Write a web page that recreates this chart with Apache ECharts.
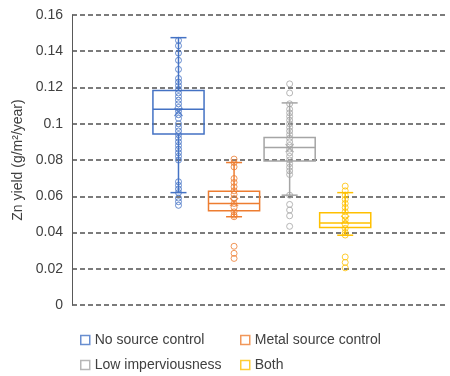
<!DOCTYPE html>
<html>
<head>
<meta charset="utf-8">
<script src="https://cdn.jsdelivr.net/npm/echarts@6/dist/echarts.min.js"></script>
<style>
  html, body { margin: 0; padding: 0; background: #fff; }
  #chart { width: 450px; height: 376px; }
</style>
</head>
<body>
<div id="chart"></div>
<script>
const groups = ['No source control', 'Metal source control', 'Low imperviousness', 'Both'];
const colors = ['#4472C4', '#ED7D31', '#A5A5A5', '#FFC000'];
const yTicks = [0, 0.02, 0.04, 0.06, 0.08, 0.1, 0.12, 0.14, 0.16];

// [lower whisker, Q1, median, Q3, upper whisker]
const boxNoSource = [0.062, 0.0943, 0.108, 0.1183, 0.1475];
const boxMetal = [0.0487, 0.052, 0.056, 0.0628, 0.0786];
const boxLowImp = [0.0606, 0.0795, 0.0869, 0.0924, 0.1115];
const boxBoth = [0.0385, 0.0428, 0.0452, 0.0509, 0.062];
const means = [0.1065, 0.0568, 0.0866, 0.047];

const ptsNoSource = [0.146, 0.143, 0.139, 0.135, 0.130, 0.125, 0.123, 0.121, 0.119, 0.117, 0.115,
  0.113, 0.111, 0.109, 0.107, 0.105, 0.103, 0.100, 0.098, 0.096, 0.094, 0.092, 0.090, 0.088,
  0.086, 0.084, 0.082, 0.080, 0.068, 0.066, 0.064, 0.062, 0.059, 0.057, 0.055];
const ptsMetal = [0.0805, 0.0786, 0.0762, 0.0698, 0.0676, 0.0652, 0.063, 0.061, 0.0588, 0.056,
  0.0538, 0.0514, 0.0496, 0.0487, 0.0324, 0.0285, 0.0257];
const ptsLowImp = [0.122, 0.117, 0.111, 0.108, 0.106, 0.104, 0.102, 0.100, 0.098, 0.096, 0.094,
  0.092, 0.090, 0.088, 0.086, 0.084, 0.082, 0.080, 0.078, 0.076, 0.074, 0.072, 0.0606,
  0.0555, 0.0524, 0.0492, 0.0434];
const ptsBoth = [0.0656, 0.063, 0.0606, 0.0583, 0.056, 0.0538, 0.0514, 0.049, 0.0469, 0.0445,
  0.0423, 0.040, 0.0386, 0.0265, 0.0235, 0.0205];

const boxes = [boxNoSource, boxMetal, boxLowImp, boxBoth];
const points = [ptsNoSource, ptsMetal, ptsLowImp, ptsBoth];

const chart = echarts.init(document.getElementById('chart'));
const font = 'Liberation Sans';

const renderBox = (params, api) => {
  const i = api.value(0);
  const x = api.coord([i, 0])[0];
  const w = api.size([1, 0])[0] * 0.92;
  const capW = 16;
  const y = [1, 2, 3, 4, 5].map(k => api.coord([i, api.value(k)])[1]);
  const style = { stroke: colors[i], lineWidth: 1.5, fill: null };
  const line = (x1, y1, x2, y2) => ({ type: 'line', shape: { x1, y1, x2, y2 }, style });
  return {
    type: 'group',
    children: [
      line(x, y[0], x, y[1]),
      line(x, y[3], x, y[4]),
      line(x - capW / 2, y[0], x + capW / 2, y[0]),
      line(x - capW / 2, y[4], x + capW / 2, y[4]),
      { type: 'rect', shape: { x: x - w / 2, y: y[3], width: w, height: y[1] - y[3] }, style },
      line(x - w / 2, y[2], x + w / 2, y[2])
    ]
  };
};

const series = [{
  type: 'custom',
  xAxisIndex: 1,
  yAxisIndex: 1,
  renderItem: renderBox,
  data: boxes.map((b, i) => [i, ...b]),
  z: 2
}];
groups.forEach((g, i) => {
  series.push({
    name: g,
    type: 'scatter',
    xAxisIndex: 1,
    yAxisIndex: 1,
    symbol: 'circle',
    symbolSize: 6,
    itemStyle: { color: 'rgba(255,255,255,0)', borderColor: colors[i], borderWidth: 1 },
    data: points[i].map(v => [i, v]),
    z: 3
  });
});
series.push({
  name: 'Mean',
  type: 'scatter',
  xAxisIndex: 1,
  yAxisIndex: 1,
  symbol: 'path://M1,0L5,4L9,0L10,1L6,5L10,9L9,10L5,6L1,10L0,9L4,5L0,1Z',
  symbolSize: 9,
  data: means.map((m, i) => ({ value: [i, m], itemStyle: { color: colors[i] } })),
  z: 4
});

const legendItem = i => ({
  name: groups[i],
  itemStyle: { color: '#fff', borderColor: colors[i], borderWidth: 1.5 }
});
const legendBase = {
  orient: 'vertical',
  top: 333,
  height: 44,
  padding: 0,
  icon: 'rect',
  itemWidth: 9,
  itemHeight: 9,
  itemGap: 11,
  selectedMode: false,
  textStyle: { fontFamily: font, fontSize: 14, color: '#404040' }
};

chart.setOption({
  animation: false,
  textStyle: { fontFamily: font },
  grid: [
    { left: 72, right: 3, top: 15, bottom: 71 },
    { left: 150.7, right: 77, top: 15, bottom: 71 }
  ],
  legend: [
    Object.assign({}, legendBase, { left: 80, data: [legendItem(0), legendItem(2)] }),
    Object.assign({}, legendBase, { left: 240, data: [legendItem(1), legendItem(3)] })
  ],
  xAxis: [
    { gridIndex: 0, type: 'category', data: [''], show: false },
    { gridIndex: 1, type: 'category', data: groups, show: false }
  ],
  yAxis: [
    {
      gridIndex: 0,
      type: 'value',
      min: yTicks[0],
      max: yTicks[yTicks.length - 1],
      interval: 0.02,
      name: 'Zn yield (g/m²/year)',
      nameLocation: 'middle',
      nameGap: 47,
      nameTextStyle: { fontFamily: font, fontSize: 14, color: '#404040' },
      axisLine: { show: true, lineStyle: { color: '#595959', width: 1 } },
      axisTick: { show: false },
      axisLabel: {
        fontFamily: font, fontSize: 14, color: '#404040', margin: 9,
        formatter: v => String(yTicks.find(t => Math.abs(t - v) < 1e-9) ?? v)
      },
      splitLine: { show: true, lineStyle: { color: '#505050', type: [5, 3], width: 1.5 } }
    },
    {
      gridIndex: 1,
      type: 'value',
      min: yTicks[0],
      max: yTicks[yTicks.length - 1],
      show: false,
      splitLine: { show: false }
    }
  ],
  series
});
</script>
</body>
</html>
